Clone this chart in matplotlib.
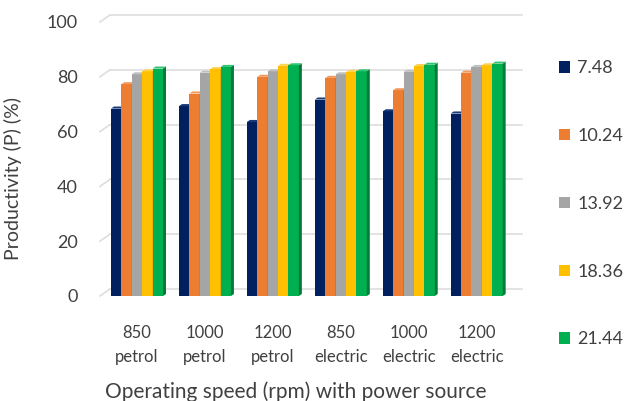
import numpy as np
import matplotlib.pyplot as plt
from matplotlib.patches import Polygon, Patch

plt.rcParams['font.family'] = ['Lato', 'DejaVu Sans']
txt = '#404040'

groups = ['850\npetrol', '1000\npetrol', '1200\npetrol',
          '850\nelectric', '1000\nelectric', '1200\nelectric']
series = ['7.48', '10.24', '13.92', '18.36', '21.44']
colors = ['#002060', '#ED7D31', '#A5A5A5', '#FFC000', '#00B050']
sides = ['#001238', '#B85E22', '#7E7E7E', '#C99700', '#007A38']
tops = ['#1A3A7A', '#F29A5E', '#C0C0C0', '#FFD24D', '#33C473']

p_748 = [68.4, 69.3, 63.5, 71.7, 67.4, 66.6]
p_1024 = [77.3, 73.9, 80.0, 79.6, 75.1, 81.5]
p_1392 = [80.9, 81.5, 82.0, 80.9, 81.8, 83.6]
p_1836 = [82.0, 82.8, 84.0, 81.8, 83.9, 84.2]
p_2144 = [83.0, 83.6, 84.2, 82.0, 84.4, 84.8]
values = [p_748, p_1024, p_1392, p_1836, p_2144]

fig = plt.figure(figsize=(6.29, 4.01), dpi=100)
ax = fig.add_axes([100 / 629, 105 / 401, 412 / 629, 274 / 401])
ax.set_xlim(-0.545, 5.52)
ax.set_ylim(0, 100)

# depth of the back wall and of each bar, in data units
wdx, wdy = 0.147, 2.55
bdx, bdy = 0.044, 0.75
w = 0.153

x = np.arange(len(groups))
x0, x1 = ax.get_xlim()
for v in range(0, 101, 20):
    ax.plot([x0, x0 + wdx], [v, v + wdy], color='#dedede', lw=1.2, clip_on=False, zorder=1)
    ax.plot([x0 + wdx, x1 + wdx], [v + wdy, v + wdy], color='#dedede', lw=1.2, clip_on=False, zorder=1)

for i, vals in enumerate(values):
    xs = x + (i - 2) * w
    ax.bar(xs, vals, width=w, color=colors[i], zorder=3)
    for xc, h in zip(xs, vals):
        r = xc + w / 2
        l = xc - w / 2
        ax.add_patch(Polygon([[r, 0], [r + bdx, bdy], [r + bdx, h + bdy], [r, h]],
                             closed=True, fc=sides[i], ec='none', zorder=3, clip_on=False))
        ax.add_patch(Polygon([[l, h], [l + bdx, h + bdy], [r + bdx, h + bdy], [r, h]],
                             closed=True, fc=tops[i], ec='none', zorder=3, clip_on=False))

for s in ax.spines.values():
    s.set_visible(False)
ax.set_yticks(range(0, 101, 20))
ax.set_xticks(x)
ax.set_xticklabels(groups, fontsize=12, color=txt, linespacing=1.6)
ax.tick_params(axis='y', length=0, pad=16, labelsize=13, labelcolor=txt)
ax.tick_params(axis='x', length=0, pad=21)

ax.set_ylabel('Productivity (P) (%)', fontsize=14, color=txt)
ax.yaxis.set_label_coords(-0.19, 0.43)
ax.set_xlabel('Operating speed (rpm) with power source', fontsize=15, color=txt)
ax.xaxis.set_label_coords(0.475, -0.312)

handles = [Patch(facecolor=c, edgecolor='none') for c in colors]
fig.legend(handles, series, loc='upper left', bbox_to_anchor=(552 / 629, 1 - 53 / 401),
           frameon=False, fontsize=13, labelcolor=txt, labelspacing=2.87,
           handlelength=0.6, handleheight=0.6, handletextpad=0.4, borderaxespad=0)

fig.savefig('out.png', dpi=100)
